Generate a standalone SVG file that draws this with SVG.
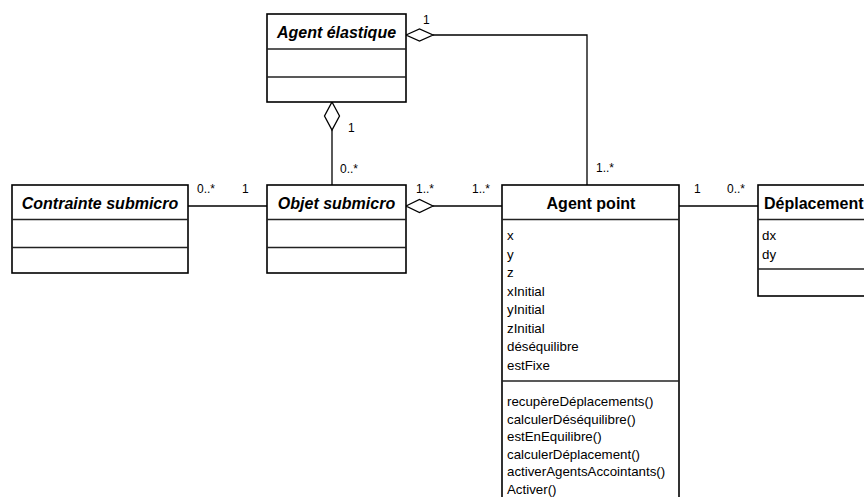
<svg xmlns="http://www.w3.org/2000/svg" width="864" height="497" viewBox="0 0 864 497">
<style>
.box{fill:#fff;stroke:#000;stroke-width:1.6}
.sep{stroke:#222;stroke-width:1.5;fill:none}
.title{font-family:"Liberation Sans",Arial,sans-serif;font-size:16px;font-weight:bold;fill:#000}
.it{font-style:italic}
.txt{font-family:"Liberation Sans",Arial,sans-serif;font-size:13.3px;fill:#000}
.lbl{font-family:"Liberation Sans",Arial,sans-serif;font-size:12px;fill:#000}
.con{stroke:#000;stroke-width:1.3;fill:none}
.dia{stroke:#000;stroke-width:1.3;fill:#fff}
</style>
<rect width="864" height="497" fill="#fff"/>
<g id="connectors">
  <polyline class="con" points="433,35 587,35 587,185"/>
  <polygon class="dia" points="406,35 419.5,29 433,35 419.5,41"/>
  <line class="con" x1="332" y1="130" x2="332" y2="185"/>
  <polygon class="dia" points="332,102 339.5,116 332,130 324.5,116"/>
  <line class="con" x1="188" y1="206" x2="267" y2="206"/>
  <line class="con" x1="433" y1="206" x2="502" y2="206"/>
  <polygon class="dia" points="406,206 419.5,199.5 433,206 419.5,212.5"/>
  <line class="con" x1="679" y1="206" x2="758" y2="206"/>
  <text class="lbl" x="423" y="24">1</text>
  <text class="lbl" x="348" y="132">1</text>
  <text class="lbl" x="340" y="173">0..*</text>
  <text class="lbl" x="596" y="172">1..*</text>
  <text class="lbl" x="197" y="193">0..*</text>
  <text class="lbl" x="242" y="193">1</text>
  <text class="lbl" x="416" y="193">1..*</text>
  <text class="lbl" x="472" y="193">1..*</text>
  <text class="lbl" x="694" y="193">1</text>
  <text class="lbl" x="727" y="193">0..*</text>
</g>
<g id="agent-elastique">
  <rect class="box" x="267" y="14" width="139" height="88"/>
  <line class="sep" x1="267" y1="49" x2="406" y2="49"/>
  <line class="sep" x1="267" y1="77" x2="406" y2="77"/>
  <text class="title it" x="336.5" y="38" text-anchor="middle">Agent élastique</text>
</g>
<g id="contrainte-submicro">
  <rect class="box" x="12" y="185" width="176" height="88"/>
  <line class="sep" x1="12" y1="219.5" x2="188" y2="219.5"/>
  <line class="sep" x1="12" y1="247.5" x2="188" y2="247.5"/>
  <text class="title it" x="100" y="209" text-anchor="middle">Contrainte submicro</text>
</g>
<g id="objet-submicro">
  <rect class="box" x="267" y="185" width="139" height="88"/>
  <line class="sep" x1="267" y1="219.5" x2="406" y2="219.5"/>
  <line class="sep" x1="267" y1="247.5" x2="406" y2="247.5"/>
  <text class="title it" x="336.5" y="209" text-anchor="middle">Objet submicro</text>
</g>
<g id="agent-point">
  <rect class="box" x="502" y="185" width="177" height="330"/>
  <line class="sep" x1="502" y1="219.5" x2="679" y2="219.5"/>
  <line class="sep" x1="502" y1="381" x2="679" y2="381"/>
  <text class="title" x="591" y="209" text-anchor="middle">Agent point</text>
  <text class="txt" x="507" y="240">x</text>
  <text class="txt" x="507" y="258.5">y</text>
  <text class="txt" x="507" y="277">z</text>
  <text class="txt" x="507" y="295.5">xInitial</text>
  <text class="txt" x="507" y="314">yInitial</text>
  <text class="txt" x="507" y="332.5">zInitial</text>
  <text class="txt" x="507" y="351">déséquilibre</text>
  <text class="txt" x="507" y="369.5">estFixe</text>
  <text class="txt" x="507" y="406">recupèreDéplacements()</text>
  <text class="txt" x="507" y="423.6">calculerDéséquilibre()</text>
  <text class="txt" x="507" y="441.2">estEnEquilibre()</text>
  <text class="txt" x="507" y="458.8">calculerDéplacement()</text>
  <text class="txt" x="507" y="476.4">activerAgentsAccointants()</text>
  <text class="txt" x="507" y="494">Activer()</text>
</g>
<g id="deplacement">
  <rect class="box" x="758" y="185" width="140" height="111"/>
  <line class="sep" x1="758" y1="219.5" x2="898" y2="219.5"/>
  <line class="sep" x1="758" y1="269" x2="898" y2="269"/>
  <text class="title" x="764" y="209">Déplacement</text>
  <text class="txt" x="762" y="240">dx</text>
  <text class="txt" x="762" y="258.5">dy</text>
</g>
</svg>
